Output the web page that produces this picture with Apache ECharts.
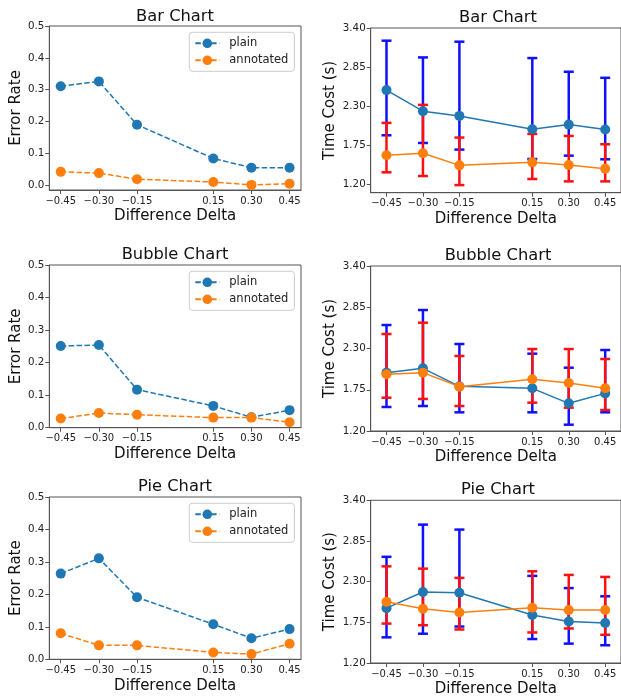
<!DOCTYPE html>
<html>
<head>
<meta charset="utf-8">
<script src="https://cdn.jsdelivr.net/npm/echarts@6/dist/echarts.min.js"></script>
<style>
  html, body { margin: 0; padding: 0; background: #fff; }
  #chart { width: 621px; height: 698px; }
</style>
</head>
<body>
<div id="chart"></div>
<script>
// x positions (difference delta) and tick labels
const deltas = [-0.45, -0.30, -0.15, 0.15, 0.30, 0.45];
const errTicks = [0, 0.1, 0.2, 0.3, 0.4, 0.5];
const timeTicks = [1.20, 1.75, 2.30, 2.85, 3.40];
const chartNames = ['Bar Chart', 'Bubble Chart', 'Pie Chart'];

// error rate (left column)
const barErrPlain = [0.311, 0.326, 0.190, 0.084, 0.055, 0.055];
const barErrAnno = [0.042, 0.038, 0.019, 0.010, 0.001, 0.005];
const bubbleErrPlain = [0.251, 0.254, 0.117, 0.067, 0.032, 0.054];
const bubbleErrAnno = [0.028, 0.045, 0.040, 0.031, 0.031, 0.017];
const pieErrPlain = [0.264, 0.311, 0.191, 0.108, 0.065, 0.093];
const pieErrAnno = [0.080, 0.043, 0.043, 0.021, 0.016, 0.048];

// time cost (right column): mean, lower and upper end of the error bar
const barTimePlain = [2.528, 2.232, 2.166, 1.979, 2.044, 1.974];
const barTimePlainLow = [1.894, 1.786, 1.693, 1.561, 1.608, 1.557];
const barTimePlainHigh = [3.222, 2.987, 3.208, 2.978, 2.786, 2.701];
const barTimeAnno = [1.613, 1.641, 1.472, 1.514, 1.477, 1.425];
const barTimeAnnoLow = [1.374, 1.322, 1.195, 1.280, 1.247, 1.247];
const barTimeAnnoHigh = [2.068, 2.321, 1.862, 1.913, 1.885, 1.768];

const bubbleTimePlain = [1.978, 2.036, 1.796, 1.769, 1.569, 1.702];
const bubbleTimePlainLow = [1.520, 1.533, 1.449, 1.449, 1.284, 1.449];
const bubbleTimePlainHigh = [2.613, 2.813, 2.360, 2.231, 2.044, 2.280];
const bubbleTimeAnno = [1.956, 1.978, 1.791, 1.889, 1.840, 1.769];
const bubbleTimeAnnoLow = [1.644, 1.627, 1.533, 1.578, 1.511, 1.480];
const bubbleTimeAnnoHigh = [2.493, 2.644, 2.200, 2.293, 2.293, 2.160];

const pieTimePlain = [1.942, 2.160, 2.151, 1.849, 1.760, 1.742];
const pieTimePlainLow = [1.547, 1.596, 1.693, 1.524, 1.462, 1.440];
const pieTimePlainHigh = [2.636, 3.071, 3.004, 2.378, 2.213, 2.102];
const pieTimeAnno = [2.027, 1.933, 1.884, 1.947, 1.916, 1.916];
const pieTimeAnnoLow = [1.733, 1.711, 1.653, 1.613, 1.667, 1.582];
const pieTimeAnnoHigh = [2.507, 2.476, 2.351, 2.440, 2.391, 2.364];

const errData = [
  [barErrPlain, barErrAnno],
  [bubbleErrPlain, bubbleErrAnno],
  [pieErrPlain, pieErrAnno]
];
const timeData = [
  [barTimePlain, barTimePlainLow, barTimePlainHigh, barTimeAnno, barTimeAnnoLow, barTimeAnnoHigh],
  [bubbleTimePlain, bubbleTimePlainLow, bubbleTimePlainHigh, bubbleTimeAnno, bubbleTimeAnnoLow, bubbleTimeAnnoHigh],
  [pieTimePlain, pieTimePlainLow, pieTimePlainHigh, pieTimeAnno, pieTimeAnnoLow, pieTimeAnnoHigh]
];

const FONT = 'DejaVu Sans';
const BLUE = '#1f77b4';
const ORANGE = '#ff7f0e';
const SPINE = '#555';

// layout of each row: [left top, left height, right top, right height]
const rows = [
  [26, 164, 28, 164.7],
  [265, 162.7, 266, 165],
  [497, 162.3, 500.3, 165]
];
const errMin = [-0.015, 0, 0];
const timeMin = [1.088, 1.2, 1.2];
const titleY = [[16.5, 17.5], [255, 255.7], [487, 489.7]];

const signed = (v, d) => (v < 0 ? '\u2212' : '') + Math.abs(v).toFixed(d);

function xAxisFor(gi, range) {
  return {
    type: 'value', gridIndex: gi, min: -range, max: range,
    axisLine: { show: true, onZero: false, lineStyle: { color: SPINE, width: 1 } },
    axisTick: { show: true, customValues: deltas, length: 4, lineStyle: { color: SPINE } },
    axisLabel: { customValues: deltas, formatter: v => signed(v, 2), fontFamily: FONT, fontSize: 10, color: '#222', margin: 6 },
    splitLine: { show: false },
    name: 'Difference Delta', nameLocation: 'middle', nameGap: 19,
    nameTextStyle: { fontFamily: FONT, fontSize: 15, color: '#111' }
  };
}

function yAxisFor(gi, min, max, ticks, digits, name, gap) {
  return {
    type: 'value', gridIndex: gi, min: min, max: max,
    axisLine: { show: true, onZero: false, lineStyle: { color: SPINE, width: 1 } },
    axisTick: { show: true, customValues: ticks, length: 4, lineStyle: { color: SPINE } },
    axisLabel: { customValues: ticks, formatter: v => v.toFixed(digits), fontFamily: FONT, fontSize: 10.3, color: '#222', margin: 5 },
    splitLine: { show: false },
    name: name, nameLocation: 'middle', nameRotate: 90, nameGap: gap,
    nameTextStyle: { fontFamily: FONT, fontSize: 15, color: '#111' }
  };
}

// vertical bar with caps from the low to the high value at each delta
function errorBars(name, gi, lows, highs, color, z) {
  return {
    type: 'custom', name: name, xAxisIndex: gi, yAxisIndex: gi, z: z,
    data: deltas.map((d, i) => [d, lows[i], highs[i]]),
    encode: { x: 0, y: [1, 2] },
    renderItem: function (params, api) {
      const top = api.coord([api.value(0), api.value(2)]);
      const bot = api.coord([api.value(0), api.value(1)]);
      const hw = 5;
      const style = { stroke: color, lineWidth: 2.5 };
      return {
        type: 'group',
        children: [
          { type: 'line', shape: { x1: top[0], y1: top[1], x2: bot[0], y2: bot[1] }, style: style },
          { type: 'line', shape: { x1: top[0] - hw, y1: top[1], x2: top[0] + hw, y2: top[1] }, style: style },
          { type: 'line', shape: { x1: bot[0] - hw, y1: bot[1], x2: bot[0] + hw, y2: bot[1] }, style: style }
        ]
      };
    }
  };
}

function lineSeries(name, gi, values, color, dashed, z) {
  return {
    type: 'line', name: name, xAxisIndex: gi, yAxisIndex: gi, z: z,
    data: deltas.map((d, i) => [d, values[i]]),
    symbol: 'circle', symbolSize: 10, showSymbol: true,
    lineStyle: { color: color, width: 1.5, type: dashed ? [5.5, 2.4] : 'solid' },
    itemStyle: { color: color }
  };
}

const grids = [], xAxes = [], yAxes = [], series = [], legends = [], graphics = [];

rows.forEach((r, row) => {
  const gl = row * 2, gr = row * 2 + 1;
  grids.push({ left: 49.3, width: 251.7, top: r[0], height: r[1], show: true, borderColor: SPINE, borderWidth: 1 });
  grids.push({ left: 370.7, width: 254.3, top: r[2], height: r[3], show: true, borderColor: SPINE, borderWidth: 1 });

  xAxes.push(xAxisFor(gl, 0.495));
  xAxes.push(xAxisFor(gr, 0.515));
  yAxes.push(yAxisFor(gl, errMin[row], 0.5, errTicks, 1, 'Error Rate', 26));
  yAxes.push(yAxisFor(gr, timeMin[row], 3.4, timeTicks, 2, 'Time Cost (s)', 33.5));

  const e = errData[row];
  series.push(lineSeries('plain', gl, e[0], BLUE, true, 3));
  series.push(lineSeries('annotated', gl, e[1], ORANGE, true, 4));

  const t = timeData[row];
  series.push(errorBars('plain range', gr, t[1], t[2], '#1010ff', 2));
  series.push(errorBars('annotated range', gr, t[4], t[5], '#ff1010', 3));
  series.push(lineSeries('plain time', gr, t[0], BLUE, false, 4));
  series.push(lineSeries('annotated time', gr, t[3], ORANGE, false, 5));

  legends.push({
    data: ['plain', 'annotated'],
    orient: 'vertical', left: 189.3, top: r[0] + 6.3,
    padding: [4, 6, 4, 5], itemGap: 3, itemWidth: 24, itemHeight: 12,
    borderColor: '#ccc', borderWidth: 1, borderRadius: 3,
    selectedMode: false,
    textStyle: { fontFamily: FONT, fontSize: 11.5, color: '#222', lineHeight: 14, padding: [0, 0, 0, 5] }
  });

  graphics.push({
    type: 'text', x: 175, y: titleY[row][0],
    style: { text: chartNames[row], font: '16.3px "' + FONT + '"', fill: '#111', align: 'center', verticalAlign: 'middle' }
  });
  graphics.push({
    type: 'text', x: 498, y: titleY[row][1],
    style: { text: chartNames[row], font: '16.3px "' + FONT + '"', fill: '#111', align: 'center', verticalAlign: 'middle' }
  });
});

const myChart = echarts.init(document.getElementById('chart'));
myChart.setOption({
  animation: false,
  backgroundColor: '#fff',
  grid: grids,
  xAxis: xAxes,
  yAxis: yAxes,
  legend: legends,
  graphic: graphics,
  series: series
});
</script>
</body>
</html>
